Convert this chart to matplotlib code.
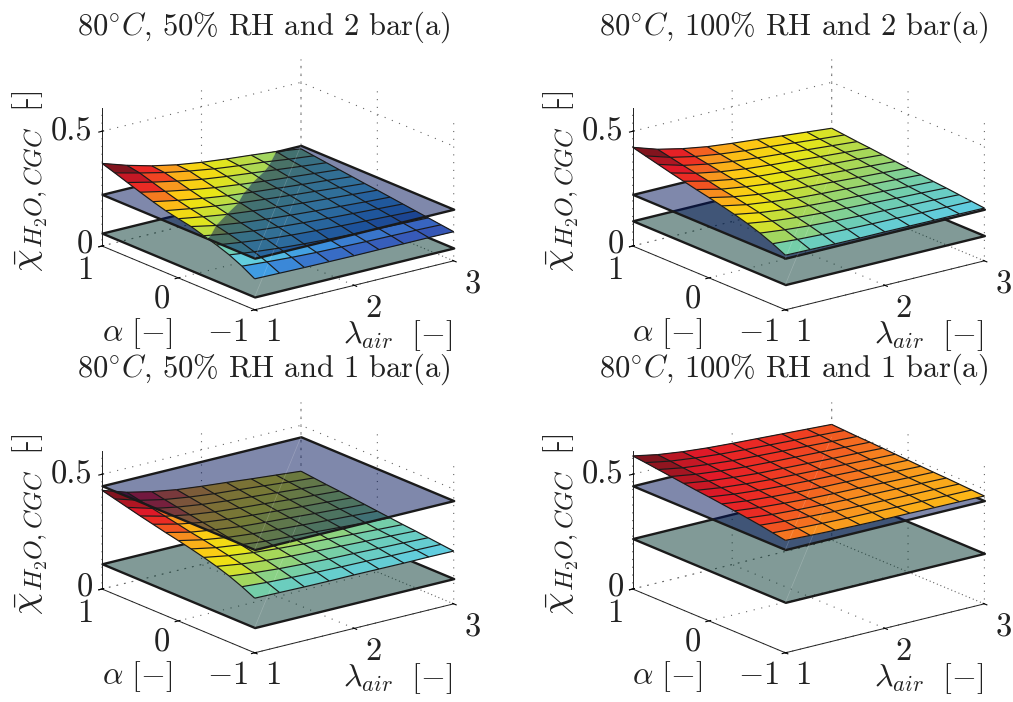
import numpy as np
import matplotlib
matplotlib.use('Agg')
import matplotlib.pyplot as plt
from matplotlib.colors import LinearSegmentedColormap, Normalize, to_rgba
from mpl_toolkits.mplot3d import proj3d
from mpl_toolkits.mplot3d.art3d import Poly3DCollection, Line3DCollection

plt.rcParams['font.family'] = ['cmr10', 'DejaVu Sans']
plt.rcParams['mathtext.fontset'] = 'cm'
plt.rcParams['axes.unicode_minus'] = False
plt.rcParams['axes.formatter.use_mathtext'] = True
plt.rcParams['grid.linestyle'] = (0, (1, 6))
plt.rcParams['grid.linewidth'] = 0.8
plt.rcParams['grid.color'] = '#666666'

# data
lam = [1.0, 1.25, 1.5, 1.75, 2.0, 2.25, 2.5, 2.75, 3.0]
alpha = [1.0, 0.833, 0.667, 0.5, 0.333, 0.167, 0.0, -0.167, -0.333, -0.5, -0.667, -0.833, -1.0]

chi_50_2bar = [
    [.360, .325, .296, .274, .258, .246, .236, .225, .210],
    [.342, .315, .290, .270, .253, .240, .229, .215, .203],
    [.323, .298, .276, .257, .243, .231, .219, .207, .196],
    [.304, .281, .261, .244, .231, .219, .209, .199, .189],
    [.286, .265, .247, .232, .221, .211, .201, .192, .182],
    [.270, .252, .237, .224, .213, .203, .194, .184, .175],
    [.258, .240, .224, .212, .202, .193, .185, .177, .169],
    [.247, .225, .210, .199, .190, .182, .175, .168, .162],
    [.230, .212, .198, .188, .180, .173, .167, .161, .155],
    [.213, .198, .185, .176, .169, .163, .158, .153, .148],
    [.193, .180, .169, .161, .155, .151, .148, .144, .141],
    [.167, .159, .152, .147, .144, .141, .139, .137, .134],
    [.135, .133, .131, .130, .129, .129, .128, .128, .127],
]
chi_100_2bar = [
    [.430, .395, .371, .353, .341, .331, .320, .310, .300],
    [.416, .383, .360, .344, .332, .323, .313, .303, .294],
    [.402, .371, .350, .335, .324, .315, .306, .297, .288],
    [.388, .360, .340, .326, .316, .308, .299, .291, .283],
    [.375, .349, .330, .317, .308, .300, .292, .285, .277],
    [.362, .337, .321, .308, .300, .293, .285, .278, .271],
    [.350, .327, .311, .300, .292, .285, .278, .272, .265],
    [.337, .316, .302, .291, .284, .278, .271, .265, .259],
    [.323, .304, .291, .282, .275, .270, .264, .258, .253],
    [.307, .291, .280, .272, .267, .262, .257, .253, .248],
    [.288, .276, .267, .261, .256, .253, .249, .246, .242],
    [.265, .257, .252, .248, .245, .243, .240, .238, .236],
    [.238, .236, .234, .233, .233, .232, .231, .231, .230],
]
chi_50_1bar = chi_100_2bar
chi_100_1bar = [
    [.580, .559, .545, .535, .528, .522, .516, .510, .504],
    [.574, .554, .541, .531, .524, .518, .512, .507, .501],
    [.567, .548, .536, .526, .520, .514, .509, .503, .498],
    [.560, .543, .531, .522, .516, .511, .506, .501, .496],
    [.553, .537, .526, .517, .512, .507, .502, .498, .493],
    [.546, .531, .521, .513, .508, .503, .499, .494, .490],
    [.540, .526, .516, .509, .504, .500, .495, .491, .487],
    [.533, .520, .511, .504, .499, .496, .492, .488, .484],
    [.526, .514, .506, .499, .495, .492, .488, .484, .481],
    [.518, .507, .500, .495, .491, .488, .485, .482, .479],
    [.510, .501, .495, .490, .487, .484, .481, .479, .476],
    [.500, .493, .488, .484, .482, .479, .477, .475, .473],
    [.490, .485, .481, .478, .476, .475, .473, .472, .470],
]

titles = [r'$80^{\circ}C$, 50% RH and 2 bar(a)', r'$80^{\circ}C$, 100% RH and 2 bar(a)',
          r'$80^{\circ}C$, 50% RH and 1 bar(a)', r'$80^{\circ}C$, 100% RH and 1 bar(a)']
surfaces = [chi_50_2bar, chi_100_2bar, chi_50_1bar, chi_100_1bar]
upper_plane = [0.225, 0.225, 0.45, 0.45]
lower_plane = [0.056, 0.11, 0.11, 0.22]
color_lims = [(0.115, 0.36), (0.15, 0.43), (0.15, 0.43), (0.225, 0.58)]
x_ticks = [1, 2, 3]
y_ticks = [-1, 0, 1]
z_ticks = [0, 0.5]
x_ticklabels = ['1', '2', '3']
y_ticklabels = ['$-1$', '0', '1']
z_ticklabels = ['0', '0.5']

W, H = 1013, 702
# pixel spot of the left corner (alpha=1, lambda=1, z=0) of each panel
origins = [(102, 246), (632.7, 246), (102, 589), (632.7, 589)]
title_spots = [(264, 27), (794, 27), (264, 369), (794, 369)]
# tick label spots, pixels away from that corner
x_label_off = [(171, 86), (271, 62), (371, 39)]
y_label_off = [(126, 86), (60, 54), (-17, 24)]
z_label_off = [(-17, -1), (-30, -114)]

cmap = LinearSegmentedColormap.from_list('jetish', [
    (0.0, '#2d46a5'), (0.1, '#375ab9'), (0.2, '#3c96e1'), (0.3, '#5fcde6'),
    (0.4, '#6ecdb4'), (0.5, '#a5d75a'), (0.6, '#ebe614'), (0.68, '#fdc814'),
    (0.75, '#f8961e'), (0.83, '#ee3223'), (0.9, '#e11928'), (1.0, '#82141e')])


def clip_poly(pts, level, keep_above):
    # cut a polygon at z=level, keeps the part above or below
    out = []
    for p, q in zip(pts, pts[1:] + pts[:1]):
        sp = p[2] - level if keep_above else level - p[2]
        sq = q[2] - level if keep_above else level - q[2]
        if sp >= 0:
            out.append(p)
        if sp * sq < 0:
            t = (level - p[2]) / (q[2] - p[2])
            out.append((p[0] + t * (q[0] - p[0]), p[1] + t * (q[1] - p[1]), level))
    return out


def split_seg(p, q, level):
    # returns (parts below, parts above)
    if (p[2] - level) * (q[2] - level) < 0:
        t = (level - p[2]) / (q[2] - p[2])
        m = (p[0] + t * (q[0] - p[0]), p[1] + t * (q[1] - p[1]), level)
        return ([[p, m]], [[m, q]]) if p[2] < level else ([[q, m]], [[m, p]])
    if max(p[2], q[2]) <= level:
        return [[p, q]], []
    return [], [[p, q]]


def add_plane(ax, level, color):
    corners = [(lam[0], alpha[0], level), (lam[-1], alpha[0], level),
               (lam[-1], alpha[-1], level), (lam[0], alpha[-1], level)]
    ax.add_collection3d(Poly3DCollection([corners], facecolors=[to_rgba(color, 0.5)],
                                         edgecolors='#1a1a1a', linewidths=1.7))
    # pale seam across the plane, front corner to back corner
    ax.add_collection3d(Line3DCollection([[corners[3], corners[1]]], colors=[(1, 1, 1, 0.2)], linewidths=0.5))


def draw_panel(ax, Z, up, low, clim):
    norm = Normalize(*clim)
    add_plane(ax, low, '#053730')
    polys_lo, polys_hi, cols_lo, cols_hi = [], [], [], []
    segs_lo, segs_hi = [], []
    for i in range(len(alpha)):
        for j in range(len(lam)):
            here = (lam[j], alpha[i], Z[i][j])
            if j + 1 < len(lam):
                a, b = split_seg(here, (lam[j + 1], alpha[i], Z[i][j + 1]), up)
                segs_lo += a
                segs_hi += b
            if i + 1 < len(alpha):
                a, b = split_seg(here, (lam[j], alpha[i + 1], Z[i + 1][j]), up)
                segs_lo += a
                segs_hi += b
            if i + 1 < len(alpha) and j + 1 < len(lam):
                cell = [here, (lam[j + 1], alpha[i], Z[i][j + 1]),
                        (lam[j + 1], alpha[i + 1], Z[i + 1][j + 1]),
                        (lam[j], alpha[i + 1], Z[i + 1][j])]
                # flat colour from the first corner of the cell
                col = cmap(norm(Z[i][j]))
                lo = clip_poly(cell, up, False)
                hi = clip_poly(cell, up, True)
                if len(lo) > 2:
                    polys_lo.append(lo)
                    cols_lo.append(col)
                if len(hi) > 2:
                    polys_hi.append(hi)
                    cols_hi.append(col)
    if polys_lo:
        ax.add_collection3d(Poly3DCollection(polys_lo, facecolors=cols_lo, edgecolors=cols_lo, linewidths=0.3))
    if segs_lo:
        ax.add_collection3d(Line3DCollection(segs_lo, colors='#1a1a1a', linewidths=0.85))
    add_plane(ax, up, '#001258')
    if polys_hi:
        ax.add_collection3d(Poly3DCollection(polys_hi, facecolors=cols_hi, edgecolors=cols_hi, linewidths=0.3))
    if segs_hi:
        ax.add_collection3d(Line3DCollection(segs_hi, colors='#1a1a1a', linewidths=0.85))


def to_px(ax, x, y, z):
    a, b, _ = proj3d.proj_transform(x, y, z, ax.get_proj())
    return ax.transData.transform((a, b))


def place(ax, ox, oy):
    # size the square axes so lambda axis is 199 px wide, then move left corner on (ox, oy)
    ax.apply_aspect()
    dx = to_px(ax, 3, -1, 0)[0] - to_px(ax, 1, -1, 0)[0]
    box = ax.get_position()
    size = box.width * W * 199.0 / dx
    ax.set_position([box.x0, box.y0, size / W, size / H])
    ax.apply_aspect()
    p = to_px(ax, 1, 1, 0)
    box = ax.get_position()
    ax.set_position([box.x0 + (ox - p[0]) / W, box.y0 + ((H - oy) - p[1]) / H, box.width, box.height])
    ax.apply_aspect()


def px_text(x, y, s, **kw):
    kw.setdefault('ha', 'center')
    kw.setdefault('va', 'center')
    kw.setdefault('color', '#222222')
    return fig.text(x / W, 1 - y / H, s, **kw)


fig = plt.figure(figsize=(W / 100, H / 100), dpi=100)
for k in range(4):
    ax = fig.add_axes([0.1, 0.1, 400 / W, 400 / H], projection='3d',
                      proj_type='ortho', computed_zorder=False)
    ax.view_init(elev=18.7, azim=232.5)
    ax.set_box_aspect((252, 252, 146))
    ax.set_xlim(1, 3, view_margin=0)
    ax.set_ylim(-1, 1, view_margin=0)
    ax.set_zlim(0, 0.6, view_margin=0)
    draw_panel(ax, surfaces[k], upper_plane[k], lower_plane[k], color_lims[k])
    ax.set_xticks(x_ticks)
    ax.set_xticklabels([])
    ax.set_yticks(y_ticks)
    ax.set_yticklabels([])
    ax.set_zticks(z_ticks)
    ax.set_zticklabels([])
    for axis in (ax.xaxis, ax.yaxis, ax.zaxis):
        axis.pane.fill = False
        axis.pane.set_edgecolor('none')
        axis.line.set_linewidth(0.7)
        axis.line.set_color('#222222')
    ax.patch.set_alpha(0)
    place(ax, *origins[k])

    ox, oy = origins[k]
    for off, lab in zip(x_label_off, x_ticklabels):
        px_text(ox + off[0], oy + off[1], lab, fontsize=23.5)
    for off, lab in zip(y_label_off, y_ticklabels):
        px_text(ox + off[0], oy + off[1], lab, fontsize=23.5)
    for off, lab in zip(z_label_off, z_ticklabels):
        px_text(ox + off[0], oy + off[1], lab, fontsize=23.5)
    px_text(title_spots[k][0], title_spots[k][1], titles[k], fontsize=22)
    px_text(ox + 35, oy + 88, r'$\alpha\ [-]$', fontsize=23)
    px_text(ox + 296, oy + 90, r'$\lambda_{air}\ \ [-]$', fontsize=23)
    px_text(ox - 70, oy + 26, r'$\bar{\chi}_{H_2O,CGC}$', fontsize=26, rotation=90, va='bottom')
    px_text(ox - 74, oy - 145, r'$[\!$-$]$', fontsize=23, rotation=90)

fig.savefig('out.png', dpi=100)
